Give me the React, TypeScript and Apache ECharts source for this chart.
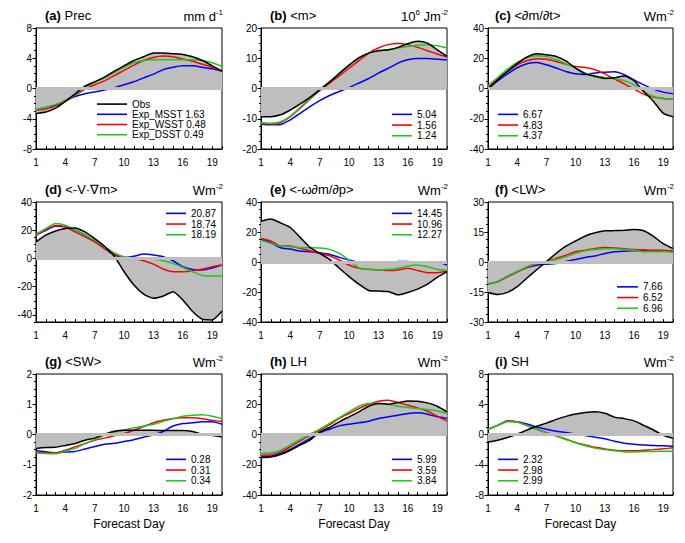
import React, { useEffect, useRef } from "react";
import * as echarts from "echarts";

const FONT = "'Liberation Sans', Arial, Helvetica, sans-serif";
const GREY = "#bebebe";
const BLUE = "#0000ff";
const RED = "#ff0000";
const GREEN = "#1ec81e";

const days = [1, 2, 3, 4, 5, 6, 7, 8, 9, 10, 11, 12, 13, 14, 15, 16, 17, 18, 19, 20];
const xTickLabels = [1, 4, 7, 10, 13, 16, 19];

// (a) Prec
const precObs = [-3.3, -3.1, -2.6, -1.7, -0.7, 0.3, 0.9, 1.5, 2.3, 3.0, 3.7, 4.2, 4.7, 4.7, 4.6, 4.5, 4.2, 3.7, 3.0, 2.3];
const precMSST = [-2.8, -2.5, -2.2, -1.6, -1.05, -0.7, -0.45, -0.2, 0.1, 0.5, 0.9, 1.4, 1.9, 2.5, 2.8, 3.0, 3.0, 2.8, 2.6, 2.3];
const precWSST = [-2.9, -2.7, -2.3, -1.7, -0.9, -0.1, 0.5, 1.0, 1.7, 2.4, 3.1, 3.7, 4.1, 4.3, 4.2, 3.9, 3.6, 3.2, 2.8, 2.3];
const precDSST = [-2.8, -2.5, -2.1, -1.6, -0.8, 0.1, 0.8, 1.4, 2.1, 2.8, 3.4, 3.7, 3.8, 3.8, 3.8, 3.8, 3.8, 3.7, 3.4, 2.9];
// (b) <m>
const mObs = [-9.3, -9.3, -8.7, -7.1, -5.1, -2.9, -0.4, 2.1, 4.9, 7.7, 10.1, 11.7, 12.5, 12.8, 13.6, 14.8, 15.6, 15.0, 12.8, 10.6];
const mMSST = [-11.7, -12.0, -11.9, -10.4, -8.2, -6.0, -4.0, -2.3, -1.0, 0.3, 1.8, 3.3, 5.1, 6.7, 8.4, 9.5, 9.9, 9.9, 9.7, 9.4];
const mWSST = [-11.5, -11.7, -11.3, -9.3, -6.5, -3.5, -0.7, 1.8, 4.2, 6.7, 9.2, 11.7, 13.4, 14.5, 14.9, 14.5, 13.6, 12.5, 11.4, 10.4];
const mDSST = [-11.3, -11.5, -11.0, -9.1, -6.2, -3.3, -0.4, 2.3, 5.1, 7.7, 10.2, 11.7, 12.5, 12.8, 13.4, 13.9, 14.3, 14.5, 14.1, 13.4];
// (c) <dm/dt>
const dmdtObs = [-0.5, 5.7, 11.3, 16.4, 20.8, 23.0, 22.3, 21.2, 18.3, 13.5, 9.7, 8.0, 6.6, 7.1, 8.2, 5.1, -2.0, -8.6, -16.4, -18.6];
const dmdtMSST = [0.2, 5.1, 9.7, 13.7, 16.4, 17.2, 15.7, 13.5, 11.3, 9.7, 9.3, 10.2, 10.8, 11.0, 9.1, 5.7, 2.4, -0.4, -2.4, -3.5];
const dmdtWSST = [0.9, 6.2, 11.3, 15.7, 18.3, 19.7, 19.4, 17.9, 16.1, 14.6, 13.9, 12.4, 9.7, 6.2, 3.1, -0.4, -3.8, -5.7, -6.6, -7.1];
const dmdtDSST = [1.8, 7.3, 12.8, 17.2, 20.3, 21.7, 21.2, 19.0, 16.4, 13.5, 10.2, 8.4, 7.3, 6.4, 5.1, 2.4, -2.0, -5.3, -6.4, -7.1];
// (d) <-V.grad m>
const hadvObs = [11.8, 16.5, 19.5, 21.2, 21.6, 18.8, 14.1, 8.7, 1.6, -9.4, -18.8, -25.2, -28.2, -26.6, -23.5, -29.4, -37.6, -43.1, -43.5, -37.2];
const hadvMSST = [16.5, 20.0, 22.8, 22.4, 20.0, 16.5, 12.5, 7.1, 2.4, 0.7, 1.6, 3.1, 2.4, 1.2, -1.6, -5.9, -7.8, -8.2, -6.8, -4.7];
const hadvWSST = [16.5, 20.5, 23.3, 22.4, 18.8, 15.3, 11.8, 7.1, 3.1, 0.7, 0.0, -1.6, -4.0, -7.5, -9.4, -9.4, -8.7, -7.5, -5.9, -4.7];
const hadvDSST = [17.2, 21.2, 24.7, 23.5, 20.0, 16.5, 12.9, 8.2, 4.0, 1.2, 0.5, 0.0, -0.5, -1.6, -3.5, -6.4, -9.4, -12.0, -12.5, -12.5];
// (e) <-omega dm/dp>
const vadvObs = [27.2, 28.7, 26.1, 23.0, 16.4, 9.7, 5.7, 1.8, -4.2, -9.7, -14.8, -19.0, -19.4, -19.7, -21.9, -20.3, -18.1, -14.8, -10.2, -6.4];
const vadvMSST = [15.0, 12.8, 9.5, 8.6, 7.3, 6.9, 6.2, 5.1, 3.1, 1.3, -0.2, -0.4, -0.4, -0.2, 0.4, 0.4, -0.4, -0.4, 0.0, -2.0];
const vadvWSST = [15.7, 14.1, 10.6, 10.6, 9.1, 7.5, 5.7, 4.2, 1.3, -2.0, -4.2, -4.9, -5.3, -5.7, -5.3, -4.2, -5.7, -7.1, -7.1, -6.0];
const vadvDSST = [14.6, 12.4, 10.6, 10.2, 9.7, 9.5, 9.3, 8.4, 5.7, 1.3, -3.8, -4.9, -5.3, -4.9, -4.2, -2.7, -2.0, -3.1, -4.9, -5.7];
// (f) <LW>
const lwObs = [-15.2, -16.2, -15.2, -12.3, -8.0, -3.9, 0.2, 4.3, 7.9, 10.5, 13.0, 14.6, 15.6, 15.7, 15.9, 16.2, 15.6, 12.8, 9.2, 6.7];
const lwMSST = [-11.0, -9.8, -7.2, -4.8, -2.8, -1.6, -1.1, -0.7, 0.2, 1.3, 2.3, 3.0, 4.3, 5.1, 5.4, 5.6, 5.6, 5.4, 5.6, 5.4];
const lwWSST = [-11.0, -9.8, -7.5, -5.1, -2.6, -1.0, 0.0, 1.8, 3.4, 5.1, 5.9, 6.7, 7.2, 7.0, 6.6, 6.2, 6.1, 5.9, 5.9, 5.6];
const lwDSST = [-11.0, -9.8, -7.2, -4.8, -2.3, -0.7, 0.2, 1.3, 2.6, 4.3, 5.6, 6.2, 6.6, 6.6, 6.2, 5.9, 5.1, 5.1, 5.2, 4.9];
// (g) <SW>
const swObs = [-0.46, -0.43, -0.42, -0.36, -0.3, -0.19, -0.12, 0.01, 0.11, 0.14, 0.14, 0.14, 0.14, 0.13, 0.13, 0.13, 0.1, 0.01, -0.03, -0.08];
const swMSST = [-0.54, -0.57, -0.61, -0.58, -0.56, -0.48, -0.4, -0.32, -0.29, -0.23, -0.17, -0.09, -0.01, 0.1, 0.28, 0.36, 0.39, 0.42, 0.42, 0.34];
const swWSST = [-0.58, -0.61, -0.61, -0.52, -0.41, -0.3, -0.19, -0.12, -0.04, 0.03, 0.14, 0.26, 0.39, 0.47, 0.53, 0.55, 0.55, 0.52, 0.47, 0.43];
const swDSST = [-0.61, -0.63, -0.64, -0.55, -0.46, -0.3, -0.17, -0.03, 0.08, 0.14, 0.22, 0.28, 0.34, 0.44, 0.52, 0.6, 0.64, 0.65, 0.6, 0.52];
// (h) LH
const lhObs = [-15.2, -14.8, -13.2, -10.4, -7.0, -3.7, 1.8, 4.6, 8.4, 11.7, 15.0, 18.7, 20.5, 20.0, 21.1, 22.2, 22.0, 20.9, 18.7, 15.0];
const lhMSST = [-14.8, -14.3, -12.6, -9.9, -6.4, -2.6, 1.1, 3.5, 5.7, 6.8, 7.7, 8.8, 10.6, 11.7, 12.8, 13.9, 14.3, 13.4, 11.7, 10.6];
const lhWSST = [-13.9, -13.4, -11.5, -8.1, -4.2, -0.4, 2.9, 6.4, 10.6, 13.9, 17.2, 20.0, 22.0, 22.7, 21.1, 19.4, 17.6, 15.4, 12.1, 8.8];
const lhDSST = [-12.6, -12.1, -10.4, -7.0, -3.3, 0.2, 3.5, 7.3, 11.2, 15.0, 18.7, 20.5, 20.5, 19.8, 18.7, 17.8, 17.2, 16.5, 15.6, 13.9];
// (i) SH
const shObs = [-1.0, -0.75, -0.4, 0.04, 0.6, 1.1, 1.5, 2.0, 2.4, 2.7, 2.9, 3.0, 2.8, 2.3, 2.1, 1.8, 1.2, 0.6, -0.1, -0.5];
const shMSST = [0.7, 1.2, 1.8, 1.7, 1.4, 1.0, 0.7, 0.44, 0.26, 0.04, -0.13, -0.35, -0.57, -0.9, -1.15, -1.3, -1.4, -1.45, -1.5, -1.55];
const shWSST = [0.7, 1.2, 1.8, 1.65, 1.2, 0.7, 0.26, -0.18, -0.6, -1.06, -1.4, -1.7, -1.9, -2.07, -2.16, -2.16, -2.07, -2.0, -1.9, -1.76];
const shDSST = [0.7, 1.2, 1.7, 1.65, 1.2, 0.7, 0.22, -0.22, -0.66, -1.1, -1.5, -1.8, -2.0, -2.16, -2.3, -2.3, -2.25, -2.25, -2.2, -2.2];

// RMSE values shown in the legends (MSST, WSST, DSST)
const rmsePrec = ["1.63", "0.48", "0.49"];
const rmseM = ["5.04", "1.56", "1.24"];
const rmseDmdt = ["6.67", "4.83", "4.37"];
const rmseHadv = ["20.87", "18.74", "18.19"];
const rmseVadv = ["14.45", "10.96", "12.27"];
const rmseLw = ["7.66", "6.52", "6.96"];
const rmseSw = ["0.28", "0.31", "0.34"];
const rmseLh = ["5.99", "3.59", "3.84"];
const rmseSh = ["2.32", "2.98", "2.99"];

const expNames = ["Exp_MSST", "Exp_WSST", "Exp_DSST"];

// y tick labels per panel
const yLabelsA = [-8, -4, 0, 4, 8];
const yLabelsB = [-20, -10, 0, 10, 20];
const yLabels40 = [-40, -20, 0, 20, 40];
const yLabelsF = [-30, -15, 0, 15, 30];
const yLabelsG = [-2, -1, 0, 1, 2];

const panels = [
  { tag: "(a)", name: " Prec", unit: "mm d{sup|-1}", min: -8, max: 8, minor: 1, labels: yLabelsA, obs: precObs, exp: [precMSST, precWSST, precDSST], rmse: rmsePrec },
  { tag: "(b)", name: " <m>", unit: "10{sup|6} Jm{sup|-2}", min: -20, max: 20, minor: 2.5, labels: yLabelsB, obs: mObs, exp: [mMSST, mWSST, mDSST], rmse: rmseM },
  { tag: "(c)", name: " <∂m/∂t>", unit: "Wm{sup|-2}", min: -40, max: 40, minor: 5, labels: yLabels40, obs: dmdtObs, exp: [dmdtMSST, dmdtWSST, dmdtDSST], rmse: rmseDmdt },
  { tag: "(d)", name: " <-V·∇m>", unit: "Wm{sup|-2}", min: -45, max: 40, minor: 5, labels: yLabels40, obs: hadvObs, exp: [hadvMSST, hadvWSST, hadvDSST], rmse: rmseHadv },
  { tag: "(e)", name: " <-ω∂m/∂p>", unit: "Wm{sup|-2}", min: -40, max: 40, minor: 5, labels: yLabels40, obs: vadvObs, exp: [vadvMSST, vadvWSST, vadvDSST], rmse: rmseVadv },
  { tag: "(f)", name: " <LW>", unit: "Wm{sup|-2}", min: -30, max: 30, minor: 3.75, labels: yLabelsF, obs: lwObs, exp: [lwMSST, lwWSST, lwDSST], rmse: rmseLw },
  { tag: "(g)", name: " <SW>", unit: "Wm{sup|-2}", min: -2, max: 2, minor: 0.25, labels: yLabelsG, obs: swObs, exp: [swMSST, swWSST, swDSST], rmse: rmseSw },
  { tag: "(h)", name: " LH", unit: "Wm{sup|-2}", min: -40, max: 40, minor: 5, labels: yLabels40, obs: lhObs, exp: [lhMSST, lhWSST, lhDSST], rmse: rmseLh },
  { tag: "(i)", name: " SH", unit: "Wm{sup|-2}", min: -8, max: 8, minor: 1, labels: yLabelsA, obs: shObs, exp: [shMSST, shWSST, shDSST], rmse: rmseSh },
];

// layout (pixels)
const colLeft = [36, 261, 488];
const colWidth = [186, 186, 185];
const rowTop = [28, 202, 374];
const rowHeight = [121, 120, 121];
const legendPos = [
  { left: 97, top: 99, w: 30 },
  { left: 392, top: 109, w: 20 },
  { left: 498, top: 109, w: 20 },
  { left: 166, top: 208, w: 20 },
  { left: 392, top: 208, w: 20 },
  { left: 617, top: 281.5, w: 21 },
  { left: 166, top: 454, w: 20 },
  { left: 392, top: 454, w: 20 },
  { left: 498, top: 454, w: 20 },
];

function near(a: number, b: number) {
  return Math.abs(a - b) < 1e-6;
}

function buildOption() {
  const grid: any[] = [];
  const xAxis: any[] = [];
  const yAxis: any[] = [];
  const series: any[] = [];
  const title: any[] = [];
  const legend: any[] = [];
  const colors = [BLUE, RED, GREEN];
  const extraY: any[] = [];

  panels.forEach((p, i) => {
    const r = Math.floor(i / 3);
    const c = i % 3;
    const left = colLeft[c];
    const top = rowTop[r];
    const width = colWidth[c];
    const height = rowHeight[r];
    grid.push({ left, top, width, height, show: true, borderColor: "#000", borderWidth: 1, backgroundColor: "rgba(0,0,0,0)" });
    xAxis.push({
      type: "value",
      gridIndex: i,
      min: 1,
      max: 20,
      interval: 1,
      axisLine: { show: true, onZero: false, lineStyle: { color: "#000", width: 1 } },
      axisTick: { show: true, inside: true, length: 3, lineStyle: { color: "#000" } },
      axisLabel: {
        color: "#000",
        fontSize: 10,
        fontFamily: FONT,
        margin: 8,
        formatter: (v: number) => (xTickLabels.indexOf(v) >= 0 ? String(v) : ""),
      },
      splitLine: { show: false },
      name: r === 2 ? "Forecast Day" : "",
      nameLocation: "middle",
      nameGap: 23,
      nameTextStyle: { color: "#000", fontSize: 12, fontFamily: FONT },
    });
    // main y axis: ticks every "minor" step (min is a multiple of it), labels only at major values
    yAxis.push({
      type: "value",
      gridIndex: i,
      position: "left",
      min: p.min,
      max: p.max,
      interval: p.minor,
      axisLine: { show: true, onZero: false, lineStyle: { color: "#000", width: 1 } },
      axisTick: { show: true, inside: false, length: 2, lineStyle: { color: "#000" } },
      axisLabel: {
        color: "#000",
        fontSize: 10,
        fontFamily: FONT,
        margin: 4,
        formatter: (v: number) => (p.labels.some((l) => near(l, v)) ? String(v) : ""),
      },
      splitLine: { show: false },
    });
    // overlay axis: longer ticks at the major (labelled) values
    extraY.push({
      type: "value",
      gridIndex: i,
      position: "left",
      offset: 0,
      min: p.min,
      max: p.max,
      interval: p.minor,
      axisLine: { show: false, onZero: false },
      axisTick: { show: true, inside: false, length: 3.5, lineStyle: { color: "#000" }, customValues: p.labels },
      axisLabel: { show: false },
      splitLine: { show: false },
    });

    const obsData = days.map((d, k) => [d, p.obs[k]]);
    series.push({
      type: "line",
      name: "Obs",
      xAxisIndex: i,
      yAxisIndex: i,
      data: obsData,
      symbol: "none",
      smooth: 0.2,
      z: 1,
      itemStyle: { color: "#000" },
      lineStyle: { width: 0, color: "#000" },
      areaStyle: { color: GREY, opacity: 1, origin: "auto" },
      markLine: {
        silent: true,
        symbol: "none",
        label: { show: false },
        lineStyle: { color: GREY, width: 3, type: "solid" },
        data: [{ yAxis: 0 }],
      },
    });
    const names: string[] = [];
    if (i === 0) names.push("Obs");
    p.exp.forEach((arr, e) => {
      const nm = i === 0 ? `${expNames[e]} ${p.rmse[e]}` : p.rmse[e];
      names.push(nm);
      series.push({
        type: "line",
        name: nm,
        xAxisIndex: i,
        yAxisIndex: i,
        data: days.map((d, k) => [d, arr[k]]),
        symbol: "none",
        smooth: 0.2,
        z: 2,
        itemStyle: { color: colors[e] },
        lineStyle: { width: 1.5, color: colors[e] },
      });
    });
    series.push({
      type: "line",
      name: "Obs",
      xAxisIndex: i,
      yAxisIndex: i,
      data: obsData,
      symbol: "none",
      smooth: 0.2,
      z: 3,
      itemStyle: { color: "#000" },
      lineStyle: { width: 1.5, color: "#000" },
    });

    const lp = legendPos[i];
    legend.push({
      data: names,
      left: lp.left,
      top: lp.top,
      orient: "vertical",
      icon: "rect",
      itemWidth: lp.w,
      itemHeight: 1.6,
      itemGap: 0,
      padding: 0,
      selectedMode: false,
      textStyle: { color: "#000", fontSize: 10, fontFamily: FONT, lineHeight: i === 0 ? 10.2 : 10.7 },
    });

    title.push({
      text: `{b|${p.tag}}${p.name}`,
      left: left + (c === 2 ? 7 : 9),
      top: top - 21,
      padding: 0,
      textStyle: {
        fontSize: 13,
        fontWeight: "normal",
        color: "#000",
        fontFamily: FONT,
        lineHeight: 16,
        rich: { b: { fontSize: 13, fontWeight: "bold", fontFamily: FONT, color: "#000", lineHeight: 16 } },
      },
    });
    title.push({
      text: p.unit,
      right: 685 - (left + width) - 1,
      top: top - 20,
      padding: 0,
      textStyle: {
        fontSize: 13,
        fontWeight: "normal",
        color: "#000",
        fontFamily: FONT,
        lineHeight: 16,
        rich: { sup: { fontSize: 8, fontFamily: FONT, color: "#000", verticalAlign: "top", lineHeight: 10 } },
      },
    });
  });

  return {
    animation: false,
    backgroundColor: "#fff",
    title,
    legend,
    grid,
    xAxis,
    yAxis: yAxis.concat(extraY),
    series,
  };
}

export default function App() {
  const ref = useRef<HTMLDivElement>(null);
  useEffect(() => {
    if (!ref.current) return;
    const chart = echarts.init(ref.current, undefined, { renderer: "svg" });
    chart.setOption(buildOption() as any);
    return () => chart.dispose();
  }, []);
  return <div ref={ref} style={{ position: "fixed", left: 0, top: 0, width: 685, height: 543 }} />;
}
